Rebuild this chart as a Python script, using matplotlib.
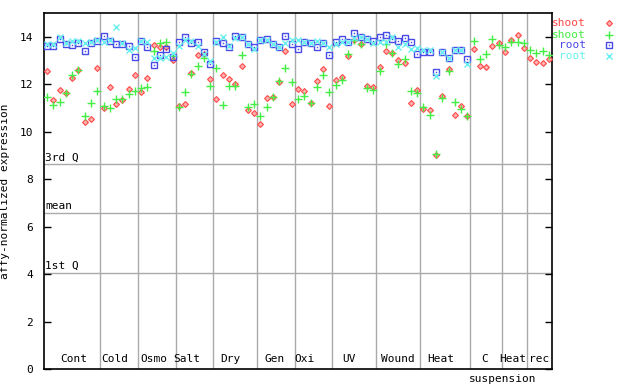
import numpy as np
import matplotlib
matplotlib.use("Agg")
import matplotlib.pyplot as plt

nan = np.nan
groups = ["Cont", "Cold", "Osmo", "Salt", "Dry", "Gen", "Oxi", "UV", "Wound", "Heat", "C", "Heat", "rec"]
group_sizes = [9, 6, 6, 6, 7, 6, 6, 7, 7, 8, 5, 4, 4]

shoot_red = [12.57, 11.35, 11.77, 11.63, 12.26, 12.61, 10.40, 10.54, 12.68,
             11.00, 11.88, 11.18, 11.32, 11.81, 12.40,
             11.67, 12.26, 13.65, 13.55, 13.56, 13.04,
             11.10, 11.17, 12.46, 13.23, 13.26, 12.22,
             11.39, 12.37, 12.23, 12.01, 12.76, 10.93, 10.79,
             10.34, 11.42, 11.47, 12.09, 13.38, 11.18,
             11.81, 11.70, 11.21, 12.14, 12.63, 11.07,
             12.19, 12.29, 13.19, 13.86, 13.68, 11.91, 11.88,
             12.72, 13.38, 13.33, 13.02, 12.91, 11.21, 11.77,
             10.97, 10.93, 9.02, 11.52, 12.64, 10.72, 11.10, 10.64,
             13.48, 12.77, 12.72, 13.61, 13.75,
             13.35, 13.86, 14.07, 13.51,
             13.10, 12.93, 12.89, 13.05]

shoot_green = [11.45, 11.14, 11.25, 11.63, 12.37, 12.61, 10.65, 11.21, 11.70,
               11.10, 11.00, 11.38, 11.38, 11.59, 11.73,
               11.84, 11.88, 13.39, 13.72, 13.76, 13.20,
               11.05, 11.67, 12.44, 12.75, 13.10, 11.91,
               12.68, 11.14, 11.91, 11.91, 13.22, 11.05, 11.17,
               10.68, 11.06, 11.44, 12.13, 12.68, 12.09,
               11.38, 11.52, 11.21, 11.88, 12.37, 11.67,
               11.98, 12.19, 13.26, 13.86, 13.68, 11.84, 11.77,
               12.56, 13.68, 13.30, 12.86, 13.07, 11.73, 11.63,
               11.05, 10.72, 9.04, 11.43, 12.56, 11.25, 10.95, 10.65,
               13.80, 13.07, 13.28, 13.89, 13.65,
               13.56, 13.76, 13.76, 13.72,
               13.44, 13.30, 13.40, 13.23]

root_blue = [13.61, 13.61, 13.90, 13.68, 13.65, 13.72, 13.40, 13.72, 13.83,
             14.03, 13.84, 13.69, 13.69, 13.60, 13.14,
             13.83, 13.56, 12.82, 13.23, 13.48, 13.16,
             13.76, 13.97, 13.73, 13.76, 13.34, 12.86,
             13.82, 13.72, 13.56, 14.03, 14.00, 13.68, 13.58,
             13.86, 13.89, 13.71, 13.55, 14.03, 13.68,
             13.49, 13.76, 13.72, 13.57, 13.72, 13.22,
             13.79, 13.89, 13.76, 14.14, 13.97, 13.89, 13.82,
             14.00, 14.07, 13.90, 13.82, 13.93, 13.76, 13.27,
             13.37, 13.36, 12.50, 13.35, 13.10, 13.42, 13.42, 13.06,
             nan, nan, nan, nan, nan,
             nan, nan, nan, nan,
             nan, nan, nan, nan]

root_cyan = [13.69, 13.68, 13.98, 13.72, 13.83, 13.83, 13.72, 13.79, 13.86,
             13.79, 13.86, 14.42, 13.72, 13.44, 13.51,
             13.80, 13.76, 13.09, 13.11, 13.16, 13.32,
             13.62, 13.86, 13.83, 13.62, 13.28, 12.98,
             13.78, 13.97, 13.60, 13.93, 13.97, 13.70, 13.48,
             13.86, 13.88, 13.70, 13.57, 13.72, 13.88,
             13.86, 13.76, 13.72, 13.82, 13.72, 13.58,
             13.68, 13.76, 13.76, 13.93, 13.97, 13.89, 13.72,
             13.76, 13.76, 14.00, 13.58, 13.68, 13.47, 13.51,
             13.42, 13.44, 12.35, 13.35, 13.10, 13.42, 13.42, 12.84,
             nan, nan, nan, nan, nan,
             nan, nan, nan, nan,
             nan, nan, nan, nan]

quartiles = {"3rd Q": 8.64, "mean": 6.58, "1st Q": 4.06}

# label centre positions in sample units (layout)
label_pos = [4.78, 11.24, 17.46, 22.8, 29.74, 36.76, 41.55, 48.6, 56.35, 63.28, 70.2, 74.8, 78.9]

RED = "#ff4a4a"
GREEN = "#44ee44"
BLUE = "#4a4ae8"
CYAN = "#66f0f0"
GRID = "#aaaaaa"
FONT = "DejaVu Sans Mono"
FS = 8

fig = plt.figure(figsize=(6.4, 3.84), dpi=100)
ax = fig.add_axes([44 / 640, 15 / 384, 508 / 640, 356 / 384])

n = sum(group_sizes)
x = np.arange(n) + 0.5
ax.set_xlim(0, n)
ax.set_ylim(0, 15)

bounds = np.cumsum(group_sizes)[:-1]
for b in bounds:
    ax.axvline(b, color=GRID, lw=1, zorder=1)
for name, val in quartiles.items():
    ax.axhline(val, color=GRID, lw=1, zorder=1)
    ax.text(0.15, val + 0.06, name, fontsize=FS, family=FONT, ha="left", va="bottom", zorder=2)

red_mk = dict(marker="D", ms=3.0, mfc="#ffb0b0", mec=RED, mew=0.8)
green_mk = dict(marker="+", ms=5.5, mec=GREEN, mew=1.0)
blue_mk = dict(marker="s", ms=4.0, mfc="none", mec=BLUE, mew=1.0)
cyan_mk = dict(marker="x", ms=4.0, mec=CYAN, mew=1.0)

ax.plot(x, shoot_red, ls="none", zorder=3, **red_mk)
ax.plot(x, shoot_green, ls="none", zorder=4, **green_mk)
ax.plot(x, root_blue, ls="none", zorder=5, **blue_mk)
ax.plot(x, root_blue, ls="none", marker="s", ms=1.0, mfc=BLUE, mec=BLUE, mew=0, zorder=5)
ax.plot(x, root_cyan, ls="none", zorder=6, **cyan_mk)

for lab, pos in zip(groups, label_pos):
    ax.text(pos, 0.2, lab, fontsize=FS, family=FONT, ha="center", va="bottom")
ax.text(73.05, -0.2, "suspension", fontsize=FS, family=FONT, ha="center", va="top", clip_on=False)

ax.set_xticks([])
ax.set_yticks(np.arange(0, 15, 2))
ax.tick_params(axis="y", direction="in", length=5, width=1, right=True, labelsize=FS, pad=8)
for lbl in ax.get_yticklabels():
    lbl.set_family(FONT)
for s in ax.spines.values():
    s.set_linewidth(1.2)
ax.set_ylabel("affy-normalized expression", fontsize=8, family=FONT)
ax.yaxis.set_label_coords(-34 / 508, 0.5)

leg = [("shoot", RED, red_mk), ("shoot", GREEN, green_mk),
       ("root", BLUE, blue_mk), ("root", CYAN, cyan_mk)]
rows = [23.3, 34.7, 45.3, 56.3]
for (txt, col, mk), yy in zip(leg, rows):
    yf = 1 - yy / 384
    fig.text(586 / 640, yf, txt, color=col, fontsize=FS, family=FONT, ha="right", va="center")
    fig.add_artist(plt.Line2D([609 / 640], [yf], ls="none", transform=fig.transFigure, **mk))
fig.add_artist(plt.Line2D([609 / 640], [1 - rows[2] / 384], ls="none", marker="s", ms=1.0,
                          mfc=BLUE, mec=BLUE, mew=0, transform=fig.transFigure))

fig.savefig("out.png", dpi=100)
